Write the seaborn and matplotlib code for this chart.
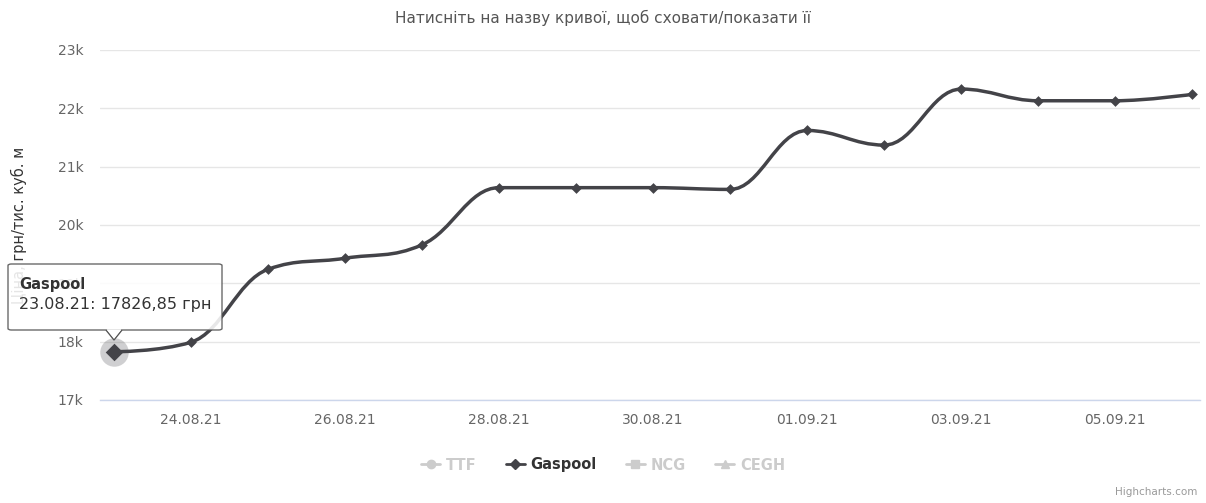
import numpy as np
import pandas as pd
import matplotlib
matplotlib.use("Agg")
import matplotlib.pyplot as plt
import matplotlib.dates as mdates
from matplotlib.path import Path
from matplotlib.patches import PathPatch, FancyBboxPatch, Polygon
from matplotlib.lines import Line2D
import seaborn as sns

# ---- data ----
dates = ["2021-08-23", "2021-08-24", "2021-08-25", "2021-08-26", "2021-08-27",
         "2021-08-28", "2021-08-29", "2021-08-30", "2021-08-31", "2021-09-01",
         "2021-09-02", "2021-09-03", "2021-09-04", "2021-09-05", "2021-09-06"]
gaspool = [17826.85, 17990, 19240, 19430, 19660,
           20640, 20640, 20640, 20610, 21620,
           21370, 22330, 22130, 22130, 22240]
series_names = ["TTF", "Gaspool", "NCG", "CEGH"]
title_text = "Натисніть на назву кривої, щоб сховати/показати її"
ylabel_text = "Ціна, грн/тис. куб. м"
tooltip_title = "Gaspool"
tooltip_text = "23.08.21: 17826,85 грн"
yticks = [17000, 18000, 19000, 20000, 21000, 22000, 23000]
ytick_labels = ["17k", "18k", "19k", "20k", "21k", "22k", "23k"]

df = pd.DataFrame({"date": pd.to_datetime(dates), "value": gaspool})

sns.set_theme(style="white")
plt.rcParams["font.family"] = ["DejaVu Sans"]

W, H = 1206, 503
fig = plt.figure(figsize=(W / 100, H / 100), dpi=100)
ax = fig.add_axes([100 / W, 1 - 400 / H, 1100 / W, 350 / H])

LINE = "#434348"

# Highcharts-like spline through data points
xs = mdates.date2num(df["date"].dt.to_pydatetime())
ys = np.asarray(df["value"], dtype=float)
n = len(xs)
sm = 1.5
den = sm + 1
lc = [(xs[i], ys[i]) for i in range(n)]
rc = [(xs[i], ys[i]) for i in range(n)]
for i in range(1, n - 1):
    px, py = xs[i], ys[i]
    lx, ly = xs[i - 1], ys[i - 1]
    nx, ny = xs[i + 1], ys[i + 1]
    lcx = (sm * px + lx) / den
    lcy = (sm * py + ly) / den
    rcx = (sm * px + nx) / den
    rcy = (sm * py + ny) / den
    if rcx != lcx:
        corr = ((rcy - lcy) * (rcx - px)) / (rcx - lcx) + py - rcy
        lcy += corr
        rcy += corr
    if lcy > ly and lcy > py:
        lcy = max(ly, py); rcy = 2 * py - lcy
    elif lcy < ly and lcy < py:
        lcy = min(ly, py); rcy = 2 * py - lcy
    if rcy > ny and rcy > py:
        rcy = max(ny, py); lcy = 2 * py - rcy
    elif rcy < ny and rcy < py:
        rcy = min(ny, py); lcy = 2 * py - rcy
    lc[i] = (lcx, lcy)
    rc[i] = (rcx, rcy)
verts = [(xs[0], ys[0])]
codes = [Path.MOVETO]
for i in range(1, n):
    verts += [rc[i - 1], lc[i], (xs[i], ys[i])]
    codes += [Path.CURVE4] * 3
ax.add_patch(PathPatch(Path(verts, codes), facecolor="none", edgecolor=LINE,
                       lw=2.5, zorder=3, capstyle="round", joinstyle="round"))

# hover halo on first point
ax.scatter([xs[0]], [ys[0]], s=420, color=LINE, alpha=0.25, linewidths=0, zorder=3)

sns.scatterplot(data=df, x="date", y="value", marker="D", s=30, color=LINE,
                edgecolor=LINE, linewidth=0, ax=ax, zorder=4, legend=False)
ax.scatter([xs[0]], [ys[0]], s=80, marker="D", color=LINE, linewidths=0, zorder=5)

ax.set_ylim(17000, 23000)
ax.set_xlim(xs[0] - 0.18, xs[-1] + 0.1)
ax.set_yticks(yticks)
ax.set_yticklabels(ytick_labels)
ax.xaxis.set_major_locator(mdates.DayLocator(bymonthday=[24, 26, 28, 30, 1, 3, 5]))
ax.xaxis.set_major_formatter(mdates.DateFormatter("%d.%m.%y"))
ax.grid(axis="y", color="#e6e6e6", lw=1)
ax.grid(axis="x", visible=False)
for s in ["top", "right", "left"]:
    ax.spines[s].set_visible(False)
ax.spines["bottom"].set_color("#ccd6eb")
ax.spines["bottom"].set_linewidth(1)
ax.tick_params(axis="both", length=0, labelsize=10, colors="#666666")
ax.tick_params(axis="y", pad=12)
ax.tick_params(axis="x", pad=9)
ax.set_xlabel("")
ax.set_ylabel(ylabel_text, fontsize=10.5, color="#333333")
ax.yaxis.set_label_coords(-73 / 1100, 0.5)

fig.text(0.5, 1 - 18 / H, title_text, ha="center", va="center",
         fontsize=11, color="#555555")

# tooltip
def fx(p):
    return p / W
def fy(p):
    return 1 - p / H
box = FancyBboxPatch((fx(8), fy(330)), fx(214), 66 / H,
                     boxstyle="round,pad=0,rounding_size=0.003",
                     transform=fig.transFigure, facecolor="white", alpha=0.88,
                     edgecolor="#555555", lw=1, zorder=10)
fig.add_artist(box)
tri = Polygon([[fx(106), fy(330)], [fx(114), fy(340)], [fx(122), fy(330)]],
              closed=False, transform=fig.transFigure, facecolor="white",
              edgecolor="#555555", lw=1, zorder=11)
fig.add_artist(tri)
cover = Polygon([[fx(106.5), fy(329.2)], [fx(114), fy(338.5)], [fx(121.5), fy(329.2)]],
                closed=True, transform=fig.transFigure, facecolor="white",
                edgecolor="none", zorder=12, alpha=0.95)
fig.add_artist(cover)
fig.text(fx(19), fy(284), tooltip_title, fontsize=10.5, fontweight="bold",
         color="#333333", va="center", ha="left", zorder=13)
fig.text(fx(19), fy(305), tooltip_text, fontsize=11.5, color="#333333",
         va="center", ha="left", zorder=13)

# legend
hidden = "#cccccc"
handles = [
    Line2D([], [], color=hidden, lw=2, marker="o", markersize=6),
    Line2D([], [], color=LINE, lw=2, marker="D", markersize=5),
    Line2D([], [], color=hidden, lw=2, marker="s", markersize=6),
    Line2D([], [], color=hidden, lw=2, marker="^", markersize=6),
]
leg = fig.legend(handles, series_names, loc="center", ncol=4,
                 bbox_to_anchor=(0.5, fy(465)), frameon=False,
                 handlelength=1.3, handletextpad=0.4, columnspacing=2.0,
                 prop={"size": 10.5, "weight": "bold"})
for t, c in zip(leg.get_texts(), [hidden, "#333333", hidden, hidden]):
    t.set_color(c)

fig.text(fx(1197), fy(492), "Highcharts.com", ha="right", va="center",
         fontsize=7.5, color="#999999")

fig.savefig("out.png", dpi=100)
